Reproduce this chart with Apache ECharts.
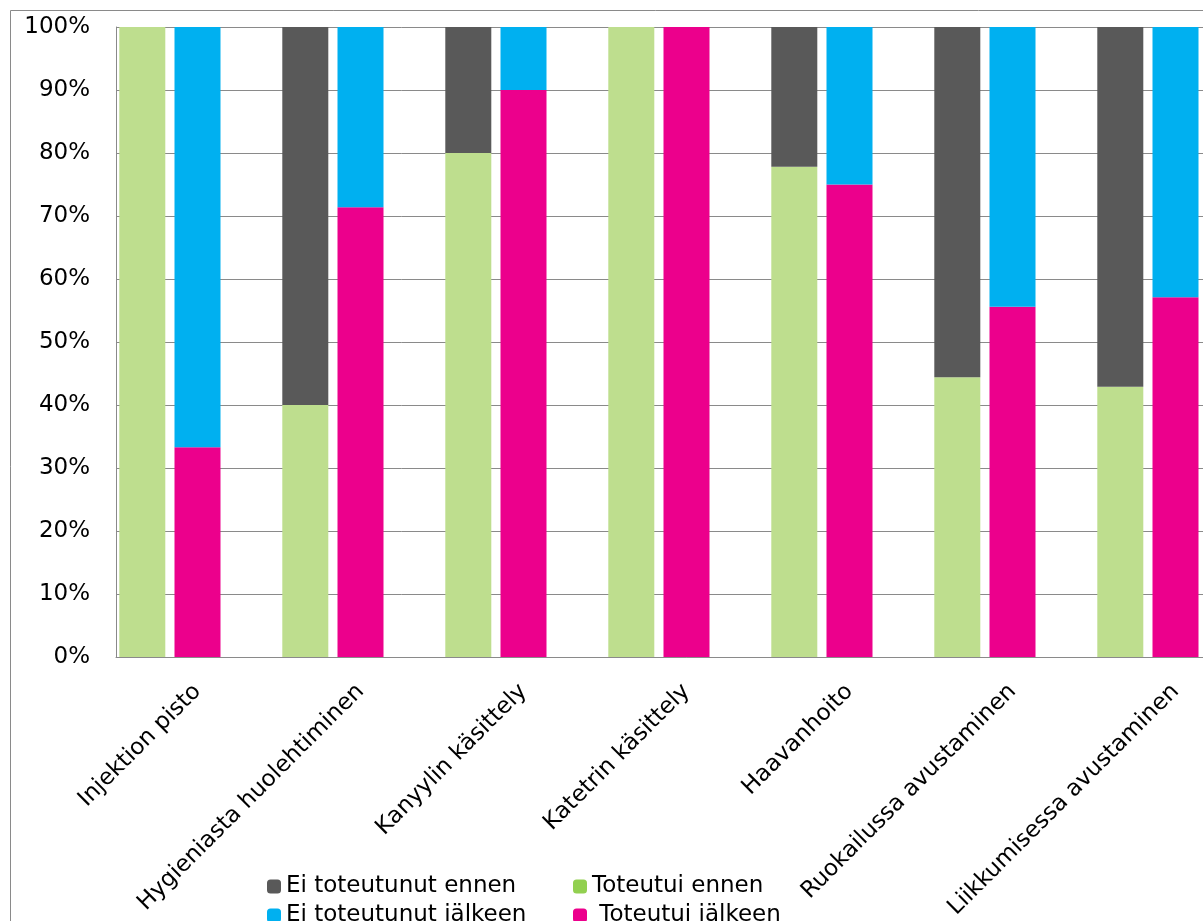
<!DOCTYPE html>
<html>
<head>
<meta charset="utf-8">
<script src="https://cdn.jsdelivr.net/npm/echarts@6/dist/echarts.min.js"></script>
<style>
html,body{margin:0;padding:0;background:#fff;overflow:hidden;width:1203px;height:921px;}
#chart{width:1300px;height:921px;}
</style>
</head>
<body>
<div id="chart"></div>
<script>
const categories = ['Injektion pisto','Hygieniasta huolehtiminen','Kanyylin käsittely','Katetrin käsittely','Haavanhoito','Ruokailussa avustaminen','Liikkumisessa avustaminen'];
const toteutuiEnnen = [100, 40, 80, 100, 77.8, 44.4, 42.9];
const eiToteutunutEnnen = [0, 60, 20, 0, 22.2, 55.6, 57.1];
const toteutuiJalkeen = [33.3, 71.4, 90, 100, 75, 55.6, 57.1];
const eiToteutunutJalkeen = [66.7, 28.6, 10, 0, 25, 44.4, 42.9];
const yTicks = [0,10,20,30,40,50,60,70,80,90,100];

const chart = echarts.init(document.getElementById('chart'), null, {renderer:'canvas'});
const FONT = 'DejaVu Sans';
const barCommon = {type:'bar', barWidth:46, barGap:'20%', barCategoryGap:7};
const legendCommon = {orient:'vertical', top:870, height:120, itemWidth:14, itemHeight:14, itemGap:6,
  textStyle:{fontFamily:FONT, fontSize:23, lineHeight:23, color:'#000'}};
chart.setOption({
  animation:false,
  backgroundColor:'#fff',
  graphic:[{type:'rect', shape:{x:10.5,y:10.5,width:1400,height:1000}, style:{fill:'none', stroke:'#8a8a8a', lineWidth:1}, silent:true}],
  grid:{left:116, top:27, bottom:264, right:43, containLabel:false, outerBoundsMode:'none'},
  xAxis:{
    type:'category', data:categories,
    axisLine:{lineStyle:{color:'#8a8a8a', width:1}},
    axisTick:{show:false},
    axisLabel:{rotate:45, interval:0, margin:31, color:'#000', fontFamily:FONT, fontSize:23}
  },
  yAxis:{
    type:'value', min:yTicks[0], max:yTicks[yTicks.length-1], interval:10,
    axisLine:{show:true, lineStyle:{color:'#8a8a8a', width:1}},
    axisTick:{show:false},
    splitLine:{lineStyle:{color:'#8a8a8a', width:1}},
    axisLabel:{formatter:'{value}%', margin:26, color:'#000', fontFamily:FONT, fontSize:23}
  },
  legend:[
    Object.assign({left:262, data:['Ei toteutunut ennen','Ei toteutunut jälkeen']}, legendCommon),
    Object.assign({left:568, data:[{name:'Toteutui ennen', itemStyle:{color:'#92D050'}},' Toteutui jälkeen']}, legendCommon)
  ],
  series:[
    Object.assign({name:'Toteutui ennen', stack:'ennen', data:toteutuiEnnen, itemStyle:{color:'#BEDE8E'}}, barCommon),
    Object.assign({name:'Ei toteutunut ennen', stack:'ennen', data:eiToteutunutEnnen, itemStyle:{color:'#595959'}}, barCommon),
    Object.assign({name:' Toteutui jälkeen', stack:'jalkeen', data:toteutuiJalkeen, itemStyle:{color:'#EC008C'}}, barCommon),
    Object.assign({name:'Ei toteutunut jälkeen', stack:'jalkeen', data:eiToteutunutJalkeen, itemStyle:{color:'#00B0F0'}}, barCommon),
    Object.assign({name:'spacer', stack:'spacer', data:categories.map(()=> '-'), itemStyle:{color:'transparent'}}, barCommon)
  ]
});
</script>
</body>
</html>
